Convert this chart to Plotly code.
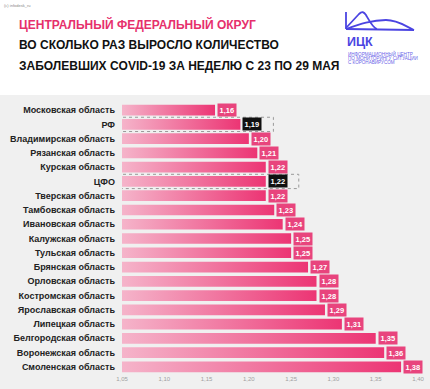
import plotly.graph_objects as go

# ---------------- data ----------------
regions = [
    "Московская область", "РФ", "Владимирская область", "Рязанская область",
    "Курская область", "ЦФО", "Тверская область", "Тамбовская область",
    "Ивановская область", "Калужская область", "Тульская область",
    "Брянская область", "Орловская область", "Костромская область",
    "Ярославская область", "Липецкая область", "Белгородская область",
    "Воронежская область", "Смоленская область",
]
growth = [1.16, 1.19, 1.20, 1.21, 1.22, 1.22, 1.22, 1.23, 1.24, 1.25, 1.25,
          1.27, 1.28, 1.28, 1.29, 1.31, 1.35, 1.36, 1.38]
highlight = ["РФ", "ЦФО"]
x_ticks = [1.05, 1.10, 1.15, 1.20, 1.25, 1.30, 1.35, 1.40]

# ---------------- layout constants ----------------
W, H = 430, 389
ML, MR, MT, MB = 122, 4, 103, 15
PW, PH = W - ML - MR, H - MT - MB
X0 = 1.05
PX_PER_UNIT = 845.7
X1 = X0 + PW / PX_PER_UNIT

def px2x(px):
    return (px - ML) / PW

def py2y(py):
    return (H - MB - py) / PH

PINK = "#e6306c"
BAR_LIGHT = "#f5b4ca"
BAR_DARK = "#ec3574"
LABEL_PINK = "#e8447d"
BLUE = "#4b44e2"
BG = "#f0f0f0"

fig = go.Figure()

half = 0.375
for i, (name, v) in enumerate(zip(regions, growth)):
    fig.add_trace(go.Scatter(
        x=[X0, v, v, X0, X0],
        y=[i - half, i - half, i + half, i + half, i - half],
        mode="lines", line=dict(width=0), fill="toself",
        fillgradient=dict(type="horizontal",
                          colorscale=[[0, BAR_LIGHT], [1, BAR_DARK]]),
        hoverinfo="skip", showlegend=False,
    ))
    is_hl = name in highlight
    fig.add_annotation(
        x=v, y=i, xref="x", yref="y", xanchor="left", yanchor="middle",
        xshift=2, showarrow=False,
        text="<b>" + f"{v:.2f}".replace(".", ",") + "</b>",
        font=dict(family="Liberation Sans, Arial, sans-serif", size=7.5, color="white"),
        bgcolor="#111111" if is_hl else LABEL_PINK, borderpad=1.5,
    )
    if is_hl:
        fig.add_shape(
            type="rect", xref="x", yref="y",
            x0=X0 - 35 / PX_PER_UNIT, x1=v + 33 / PX_PER_UNIT,
            y0=i - 0.5, y1=i + 0.5,
            line=dict(color="#9a9a9a", width=1, dash="dot"),
            fillcolor="rgba(0,0,0,0)", layer="below",
        )

# header white band
fig.add_shape(type="rect", xref="paper", yref="paper",
              x0=px2x(-5), x1=px2x(W + 5), y0=py2y(95), y1=py2y(-5),
              fillcolor="white", line=dict(width=0), layer="below")

# titles
title_font = "Liberation Sans Narrow, Liberation Sans, Arial, sans-serif"
titles = [("ЦЕНТРАЛЬНЫЙ ФЕДЕРАЛЬНЫЙ ОКРУГ", PINK, 24.5),
          ("ВО СКОЛЬКО РАЗ ВЫРОСЛО КОЛИЧЕСТВО", "#111111", 45),
          ("ЗАБОЛЕВШИХ COVID-19 ЗА НЕДЕЛЮ С 23 ПО 29 МАЯ", "#111111", 65.5)]
for txt, col, py in titles:
    fig.add_annotation(x=px2x(17), y=py2y(py), xref="paper", yref="paper",
                       xanchor="left", yanchor="middle", showarrow=False,
                       text="<b>" + txt + "</b>",
                       font=dict(family=title_font, size=12, color=col))

# tiny credit
fig.add_annotation(x=px2x(2), y=py2y(5), xref="paper", yref="paper",
                   xanchor="left", yanchor="middle", showarrow=False,
                   text="(c) infodesk_ru",
                   font=dict(family="Liberation Sans, Arial", size=4, color="#888888"))

# logo
def P(px, py):
    return f"{px2x(px):.5f},{py2y(py):.5f}"

logo_paths = [
    f"M{P(346,12)} L{P(346,29)}",
    f"M{P(346,28)} L{P(359,14)} C{P(362,11)} {P(364,12)} {P(366,15)} C{P(370,22)} {P(373,28)} {P(377,29)}",
    f"M{P(346,29)} C{P(360,24)} {P(372,20)} {P(386,20)} C{P(398,20)} {P(405,26)} {P(414,30)}",
    f"M{P(346,29)} L{P(414,30)}",
]
for pth in logo_paths:
    fig.add_shape(type="path", xref="paper", yref="paper", path=pth,
                  line=dict(color=BLUE, width=1.8))

fig.add_annotation(x=px2x(345), y=py2y(42), xref="paper", yref="paper",
                   xanchor="left", yanchor="middle", showarrow=False,
                   text="<b>ИЦК</b>",
                   font=dict(family="Liberation Sans, Arial", size=12.5, color=BLUE))
for txt, py in [("ИНФОРМАЦИОННЫЙ ЦЕНТР", 53.5),
                ("ПО МОНИТОРИНГУ СИТУАЦИИ", 58),
                ("С КОРОНАВИРУСОМ", 62.5)]:
    fig.add_annotation(x=px2x(345.5), y=py2y(py), xref="paper", yref="paper",
                       xanchor="left", yanchor="middle", showarrow=False,
                       text=txt,
                       font=dict(family="Liberation Sans, Arial", size=4.6, color="#6a64e8"))

fig.update_layout(
    width=W, height=H,
    margin=dict(l=ML, r=MR, t=MT, b=MB, pad=0),
    paper_bgcolor=BG, plot_bgcolor=BG,
    separators=", ",
    showlegend=False,
    xaxis=dict(range=[X0, X1], tickvals=x_ticks, tickformat=".2f",
               showgrid=False, zeroline=False, showline=False, ticks="",
               tickfont=dict(family="Liberation Sans, Arial", size=6, color="#a0a0a0"),
               fixedrange=True),
    yaxis=dict(range=[len(regions) - 0.5, -0.5],
               tickvals=list(range(len(regions))),
               ticktext=["<b>" + r + "</b>" for r in regions],
               showgrid=False, zeroline=False, showline=False, ticks="",
               ticklabelstandoff=6,
               tickfont=dict(family="Liberation Sans, Arial", size=9, color="#222222"),
               fixedrange=True),
)

fig.write_html("out.html",
               config={"displayModeBar": False},
               post_script="document.body.style.margin='0';document.body.style.overflow='hidden';")
